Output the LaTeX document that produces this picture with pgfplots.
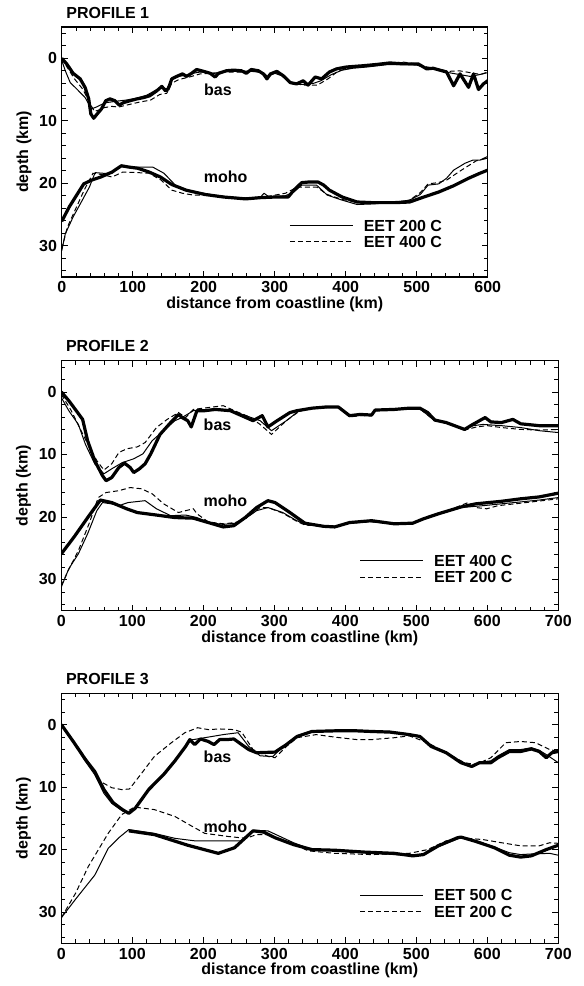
\documentclass[border=0pt]{standalone}
\usepackage{fontspec}
\setmainfont{Liberation Sans}
\usepackage{pgfplots}
\pgfplotsset{compat=1.18}
\newcommand\ff{\fontsize{12}{14}\selectfont\bfseries}

\pgfplotsset{
  prof/.style={
    scale only axis, height=187.5pt,
    y dir=reverse, ymin=-5, ymax=35,
    ytick={0,10,20,30}, minor ytick={-4,-2,...,34},
    xtick distance=100,
    tick align=inside, major tick length=4.5pt, minor tick length=3pt,
    axis line style={line width=0.9pt},
    every tick/.style={black, line width=0.6pt},
    tick label style={font=\ff},
    /pgf/number format/assume math mode=true,
    label style={font=\ff},
    xlabel={distance from coastline (km)}, ylabel={depth (km)},
    xlabel style={yshift=4pt}, ylabel style={yshift=-1pt},
    title style={at={(0,1)}, anchor=base west, yshift=0.75pt, font=\ff},
    legend style={draw=none, fill=none, font=\ff, inner sep=0pt,
      row sep=3.6pt,
      nodes={inner sep=0pt, text height=8.6pt, text depth=0pt},
      /tikz/every odd column/.style={column sep=8pt}},
    legend cell align=left,
    legend image code/.code={\draw[#1] (0pt,0pt) -- (47pt,0pt);},
  },
  thk/.style={black, line width=2.4pt, line join=round},
  thn/.style={black, line width=0.75pt, line join=round},
  dsh/.style={black, line width=0.75pt, dash pattern=on 3.75pt off 2.25pt},
}

\begin{document}
\begin{tikzpicture}
% ---------- PROFILE 1 ----------
\begin{axis}[prof, at={(46.3pt,-20.25pt)}, anchor=north west,
  width=319.5pt, xmin=0, xmax=600, minor xtick={0,20,...,600},
  title={PROFILE 1},
  legend style={at={(axis description cs:0.534,0.23)}, anchor=north west}]
\addlegendimage{thn}\addlegendentry{EET 200 C}
\addlegendimage{dsh}\addlegendentry{EET 400 C}
% bas
\addplot[thk, forget plot] coordinates {(0,0) (7,0.9) (16,2.4) (26,3.3) (33,4.7) (38,6.5) (41,8.9) (45,9.6) (50,8.9) (56,8.1) (62,6.8) (68,6.5) (75,6.8) (81,7.5) (87,7.1) (96,6.8) (106,6.5) (115,6.3) (124,6.0) (134,5.2) (141,4.5) (146,5.2) (150,4.9) (155,3.3) (162,2.9) (170,2.5) (176,2.9) (183,2.4) (190,1.8) (200,2.1) (209,2.4) (216,3.0) (221,2.4) (232,2.0) (242,1.9) (253,2.0) (260,2.4) (267,1.8) (277,2.0) (284,2.5) (289,3.3) (294,2.5) (303,2.1) (312,2.8) (322,3.9) (331,4.1) (340,3.6) (347,4.3) (357,3.0) (366,3.3) (377,2.2) (387,1.7) (401,1.4) (424,1.2) (443,1.0) (462,0.75) (481,0.9) (502,0.9) (514,1.7) (523,1.6) (542,2.2) (552,4.4) (561,2.5) (573,4.65) (580,2.5) (587,5.0) (594,4.1) (600,3.6)};
\addplot[thn, forget plot] coordinates {(0,0.3) (5,2.0) (12,3.9) (21,4.9) (33,6.3) (42,8.1) (49,7.8) (56,7.4) (63,7.1) (75,6.9) (90,6.7) (105,6.4) (120,5.9) (134,5.0) (142,4.7) (148,4.9) (155,3.4) (165,2.9) (175,2.7) (185,2.4) (195,2.2) (210,2.3) (220,2.6) (230,2.1) (250,2.0) (270,2.1) (285,2.4) (290,2.9) (300,2.4) (315,3.0) (325,4.1) (340,4.2) (355,4.0) (365,3.6) (380,2.6) (395,1.9) (410,1.6) (430,1.4) (460,1.0) (480,1.0) (500,1.1) (515,1.6) (530,1.8) (545,2.3) (560,2.6) (575,2.9) (585,2.7) (600,2.3)};
\addplot[dsh, forget plot] coordinates {(0,0) (8,1.5) (18,3.3) (30,5.0) (40,7.3) (46,8.5) (52,8.3) (60,7.9) (70,7.7) (80,7.8) (95,7.4) (110,7.0) (125,6.7) (138,5.8) (148,5.6) (155,4.0) (165,3.4) (180,3.0) (195,2.5) (210,2.4) (230,2.2) (255,2.2) (275,2.1) (290,2.7) (305,2.3) (320,3.8) (340,4.3) (360,4.3) (375,3.3) (390,2.0) (410,1.5) (440,1.1) (465,0.8) (480,0.6) (500,0.9) (515,1.4) (530,1.7) (545,2.1) (560,2.0) (575,2.3) (590,2.6) (600,2.2)};
% moho
\addplot[thk, forget plot] coordinates {(0,26.1) (10.5,23.8) (21,21.9) (31,20.1) (42,19.5) (55,19.0) (71,18.2) (84,17.2) (94,17.4) (107,17.6) (123,18.2) (139,19.0) (155,20.2) (175,21.1) (202,21.8) (228,22.2) (259,22.5) (280,22.3) (301,22.2) (319,22.2) (327,21.1) (338,19.9) (348,19.8) (361,19.8) (369,20.3) (377,21.1) (395,22.2) (416,23.0) (437,23.1) (469,23.1) (490,23.0) (510,22.2) (531,21.4) (552,20.4) (573,19.2) (589,18.4) (600,17.9)};
\addplot[thn, forget plot] coordinates {(0,30.8) (5,28.1) (16,25.4) (29,22.7) (39,20.6) (47,18.3) (58,18.4) (71,18.4) (81,17.3) (97,17.4) (115,17.4) (128,17.4) (144,18.4) (160,20.3) (180,21.2) (205,21.7) (230,22.2) (260,22.4) (280,22.2) (285,21.6) (292,22.2) (315,22.0) (327,21.4) (338,20.3) (359,20.3) (374,21.9) (395,22.7) (416,23.4) (440,23.3) (470,23.0) (490,22.7) (505,21.8) (516,20.3) (531,20.1) (542,19.2) (552,17.9) (568,16.8) (579,16.3) (589,16.3) (600,15.7)};
\addplot[dsh, forget plot] coordinates {(0,30.5) (8,27.0) (20,24.0) (32,21.0) (44,18.4) (56,18.6) (71,19.0) (86,18.2) (107,18.3) (123,18.4) (140,19.5) (155,21.1) (170,21.6) (186,21.9) (207,21.9) (230,22.1) (260,22.4) (290,22.1) (315,21.6) (332,20.6) (359,20.6) (374,21.8) (395,22.6) (420,23.1) (450,23.2) (475,23.0) (490,22.7) (505,21.5) (516,20.1) (530,19.9) (542,19.5) (563,17.9) (584,16.4) (600,16.0)};
\node[font=\ff] at (axis cs:220,5) {bas};
\node[font=\ff] at (axis cs:231,19) {moho};
\end{axis}

% ---------- PROFILE 2 ----------
\begin{axis}[prof, at={(46pt,-270.5pt)}, anchor=north west,
  width=372.75pt, xmin=0, xmax=700, minor xtick={0,20,...,700},
  title={PROFILE 2},
  legend style={at={(axis description cs:0.6,0.223)}, anchor=north west}]
\addlegendimage{thn}\addlegendentry{EET 400 C}
\addlegendimage{dsh}\addlegendentry{EET 200 C}
% bas
\addplot[thk, forget plot] coordinates {(0,0) (10.5,1.4) (21,3.0) (30,4.4) (37,7.8) (47,11.0) (58,13.4) (63,14.2) (71,13.7) (81,12.1) (89,11.4) (97,12.1) (102,12.9) (110,12.3) (118,11.5) (126,9.9) (139,6.8) (154,4.9) (165,3.6) (170,4.1) (178,4.6) (183,5.6) (191,3.0) (202,3.0) (217,2.8) (238,3.0) (254,3.8) (270,4.6) (283,3.8) (291,5.6) (304,4.6) (322,3.3) (332,3.0) (353,2.6) (374,2.4) (390,2.4) (406,3.8) (421,3.6) (437,3.7) (442,2.9) (469,2.8) (490,2.6) (505,2.6) (516,3.3) (526,4.5) (542,4.9) (568,6.0) (578,5.3) (589,4.6) (597,4.1) (605,4.8) (620,4.9) (636,4.4) (647,5.1) (673,5.4) (700,5.4)};
\addplot[thn, forget plot] coordinates {(0,0.9) (10.5,3.0) (24,5.2) (34,8.4) (47,11.5) (60,13.1) (71,12.3) (86,11.3) (102,10.7) (115,9.9) (128,7.8) (144,6.2) (160,4.6) (170,4.1) (186,3.0) (200,2.9) (220,2.7) (240,3.0) (260,3.8) (280,4.6) (296,6.2) (317,4.6) (335,3.0) (355,2.6) (390,2.4) (406,3.9) (421,3.7) (437,3.8) (442,3.0) (470,2.8) (505,2.7) (526,4.6) (545,5.0) (568,6.0) (580,5.4) (594,5.2) (620,5.4) (647,5.7) (673,6.2) (700,6.5)};
\addplot[dsh, forget plot] coordinates {(0,0.4) (13,2.8) (34,7.6) (50,11.0) (60,12.5) (71,11.5) (81,9.7) (92,9.1) (107,8.8) (118,8.1) (134,5.7) (149,4.4) (165,3.3) (175,4.1) (186,2.8) (207,2.5) (228,2.2) (250,3.3) (265,4.0) (280,5.2) (296,6.8) (317,4.6) (335,3.1) (355,2.6) (390,2.4) (406,4.0) (421,3.8) (437,3.8) (442,3.0) (470,2.8) (505,2.7) (526,4.6) (545,5.1) (568,6.1) (585,5.6) (600,5.4) (620,5.7) (647,6.0) (673,6.1) (700,6.0)};
% moho
\addplot[thk, forget plot] coordinates {(0,25.9) (18,23.2) (39,19.8) (55,17.3) (71,17.7) (92,18.7) (107,19.3) (134,19.7) (160,20.1) (186,20.2) (207,20.9) (228,21.6) (243,21.4) (259,20.1) (275,18.5) (291,17.4) (301,17.7) (322,19.3) (343,21.0) (369,21.5) (385,21.6) (406,20.9) (437,20.6) (469,21.1) (495,21.0) (510,20.3) (531,19.5) (563,18.4) (584,17.9) (620,17.5) (647,17.1) (673,16.8) (700,16.2)};
\addplot[thn, forget plot] coordinates {(0,31.2) (10.5,28.3) (24,25.9) (37,22.7) (50,19.0) (58,17.7) (70,17.9) (81,18.2) (94,17.7) (118,17.4) (134,18.7) (154,19.8) (175,19.7) (191,20.1) (207,20.9) (228,21.2) (245,21.0) (260,20.2) (275,19.0) (291,18.5) (312,19.3) (330,20.5) (343,21.2) (385,21.5) (406,20.9) (437,20.7) (469,21.1) (495,21.0) (510,20.4) (531,19.6) (563,18.5) (594,18.2) (620,17.9) (647,17.6) (673,17.3) (700,16.9)};
\addplot[dsh, forget plot] coordinates {(0,31.0) (10,28.5) (24,25.4) (39,21.1) (52,16.9) (63,16.1) (81,15.8) (97,15.3) (113,15.5) (128,16.3) (144,17.9) (165,19.3) (175,19.0) (186,18.7) (191,19.5) (207,20.8) (228,21.1) (245,20.9) (260,20.2) (280,18.5) (291,18.5) (312,19.4) (330,20.6) (343,21.3) (385,21.6) (406,21.0) (437,20.8) (469,21.1) (495,21.1) (510,20.4) (531,19.6) (573,17.7) (584,18.5) (599,18.7) (615,18.2) (647,17.8) (700,17.1)};
\node[font=\ff] at (axis cs:220,5.3) {bas};
\node[font=\ff] at (axis cs:231,17.4) {moho};
\end{axis}

% ---------- PROFILE 3 ----------
\begin{axis}[prof, at={(46pt,-520pt)}, anchor=north west,
  width=372.75pt, xmin=0, xmax=700, minor xtick={0,20,...,700},
  title={PROFILE 3},
  legend style={at={(axis description cs:0.6,0.217)}, anchor=north west}]
\addlegendimage{thn}\addlegendentry{EET 500 C}
\addlegendimage{dsh}\addlegendentry{EET 200 C}
% bas
\addplot[thk, forget plot] coordinates {(0,0) (18,2.9) (34,5.6) (47,7.5) (60,10.4) (73,12.5) (86,13.6) (95,14.2) (104,13.4) (123,10.4) (144,8.0) (160,5.8) (175,3.5) (181,2.4) (188,3.2) (196,2.3) (207,2.7) (215,3.2) (223,2.4) (233,2.4) (243,2.3) (254,3.2) (264,4.0) (275,4.5) (301,4.4) (317,3.2) (332,1.9) (353,1.1) (385,1.0) (416,1.0) (437,1.1) (463,1.2) (490,1.6) (505,1.9) (521,3.5) (542,4.5) (563,6.1) (578,6.7) (589,6.1) (605,6.1) (615,5.3) (631,4.3) (647,4.3) (662,3.9) (673,4.3) (683,5.3) (691,4.5) (700,4.3)};
\addplot[thn, forget plot] coordinates {(0,0) (18,3.0) (34,5.9) (47,8.0) (60,11.0) (71,12.6) (86,13.8) (95,14.2) (104,13.4) (123,10.4) (144,8.0) (160,5.8) (175,3.5) (181,2.4) (186,2.4) (207,2.0) (228,1.6) (249,1.3) (264,3.5) (280,5.0) (298,5.1) (312,3.5) (332,1.8) (353,1.0) (385,0.9) (416,0.9) (437,1.0) (463,1.1) (490,1.5) (505,1.8) (521,3.4) (542,4.4) (563,6.0) (578,6.6) (589,6.0) (605,5.8) (615,5.0) (631,4.0) (647,4.0) (662,3.7) (673,4.1) (683,4.8) (700,6.1)};
\addplot[dsh, forget plot] coordinates {(0,0) (34,5.3) (55,9.1) (71,10.1) (85,10.4) (96,10.3) (113,7.8) (131,5.1) (155,2.9) (174,1.3) (192,0.5) (207,0.8) (223,0.7) (243,0.8) (254,1.2) (270,4.0) (291,5.1) (301,5.3) (317,3.5) (332,2.1) (359,1.6) (385,2.0) (416,2.4) (437,2.4) (469,2.1) (490,1.8) (516,2.9) (542,4.5) (568,6.1) (584,6.4) (605,5.3) (626,2.9) (647,2.7) (668,2.9) (688,4.0) (700,4.3)};
% moho
\addplot[thk, forget plot] coordinates {(95,17.0) (131,17.6) (178,19.3) (221,20.6) (244,19.7) (270,17.0) (285,17.2) (301,18.1) (327,19.2) (353,20.0) (385,20.1) (427,20.4) (469,20.6) (495,21.0) (510,20.8) (531,19.4) (558,18.1) (563,18.0) (584,18.7) (610,19.7) (631,20.9) (647,21.2) (662,21.0) (683,20.0) (700,19.3)};
\addplot[thn, forget plot] coordinates {(0,30.9) (21,27.8) (47,24.1) (66,19.8) (81,18.1) (95,16.8) (131,17.4) (160,18.2) (188,18.6) (228,18.6) (253,18.6) (270,16.9) (291,17.0) (327,18.9) (353,20.0) (385,20.2) (427,20.5) (469,20.8) (495,21.0) (510,20.7) (531,19.5) (563,18.1) (584,18.6) (610,19.6) (631,20.5) (647,20.8) (662,20.7) (688,20.6) (700,20.9)};
\addplot[dsh, forget plot] coordinates {(0,30.9) (20,27.0) (38,22.7) (66,17.4) (85,14.4) (103,13.2) (131,13.6) (160,14.7) (183,16.2) (202,17.4) (235,17.9) (260,18.2) (275,17.6) (291,17.6) (322,18.9) (348,20.2) (385,20.6) (437,20.8) (490,20.6) (516,20.0) (542,18.6) (563,18.1) (594,18.4) (620,18.9) (647,19.4) (673,19.4) (688,18.9) (700,19.0)};
\node[font=\ff] at (axis cs:220,5.2) {bas};
\node[font=\ff] at (axis cs:231,16.3) {moho};
\end{axis}
\path (0,0) rectangle (437.25pt,-739.5pt);
\end{tikzpicture}
\end{document}
